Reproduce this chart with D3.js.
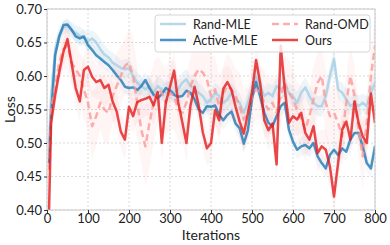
<!DOCTYPE html>
<html>
<head>
<meta charset="utf-8">
<script src="https://cdn.jsdelivr.net/npm/d3@7"></script>
<style>
  body { margin: 0; background: #fff; }
  svg { display: block; font-family: Lato, "Open Sans", sans-serif; }
</style>
</head>
<body>
<svg width="390" height="245"></svg>
<script>
// iteration of each logged point
const iterations = [5, 10, 20, 30, 40, 50, 60, 70, 80, 90, 100, 110, 120, 130, 140, 150, 160, 170, 180, 190,
  200, 210, 220, 230, 240, 250, 260, 270, 280, 290, 300, 310, 320, 330, 340, 350, 360, 370, 380, 390,
  400, 410, 420, 430, 440, 450, 460, 470, 480, 490, 500, 510, 520, 530, 540, 550, 560, 570, 580, 590,
  600, 610, 620, 630, 640, 650, 660, 670, 680, 690, 700, 710, 720, 730, 740, 750, 760, 770, 780, 790, 800];

const randMLE = [0.50, 0.57, 0.64, 0.662, 0.672, 0.675, 0.668, 0.664, 0.66, 0.657, 0.652, 0.656, 0.65, 0.64, 0.632, 0.628, 0.62, 0.616, 0.612, 0.61,
  0.612, 0.60, 0.59, 0.585, 0.58, 0.585, 0.575, 0.585, 0.58, 0.575, 0.58, 0.575, 0.58, 0.59, 0.595, 0.585, 0.58, 0.575, 0.57, 0.56,
  0.565, 0.575, 0.57, 0.56, 0.565, 0.575, 0.565, 0.56, 0.545, 0.56, 0.58, 0.598, 0.585, 0.57, 0.575, 0.57, 0.585, 0.58, 0.585, 0.575,
  0.57, 0.56, 0.575, 0.583, 0.57, 0.56, 0.555, 0.555, 0.57, 0.60, 0.625, 0.58, 0.575, 0.565, 0.555, 0.56, 0.555, 0.56, 0.555, 0.575, 0.59];
const activeMLE = [0.47, 0.54, 0.631, 0.659, 0.676, 0.677, 0.669, 0.659, 0.656, 0.659, 0.646, 0.639, 0.631, 0.626, 0.621, 0.616, 0.609, 0.601, 0.594, 0.584,
  0.582, 0.583, 0.579, 0.585, 0.594, 0.582, 0.572, 0.567, 0.573, 0.582, 0.578, 0.572, 0.569, 0.57, 0.578, 0.575, 0.565, 0.55, 0.545, 0.555,
  0.554, 0.556, 0.542, 0.534, 0.542, 0.547, 0.529, 0.522, 0.499, 0.519, 0.566, 0.591, 0.569, 0.545, 0.53, 0.525, 0.54, 0.555, 0.56, 0.52,
  0.502, 0.49, 0.495, 0.497, 0.492, 0.50, 0.48, 0.47, 0.462, 0.482, 0.49, 0.482, 0.492, 0.487, 0.505, 0.515, 0.515, 0.495, 0.47, 0.462, 0.495];
const randOMD = [0.46, 0.55, 0.585, 0.62, 0.64, 0.645, 0.62, 0.61, 0.60, 0.58, 0.56, 0.525, 0.54, 0.56, 0.55, 0.545, 0.57, 0.585, 0.60, 0.615,
  0.62, 0.60, 0.56, 0.52, 0.495, 0.53, 0.56, 0.58, 0.575, 0.56, 0.575, 0.57, 0.55, 0.545, 0.56, 0.585, 0.60, 0.61, 0.605, 0.595,
  0.57, 0.58, 0.555, 0.575, 0.585, 0.58, 0.57, 0.555, 0.535, 0.545, 0.57, 0.58, 0.575, 0.56, 0.55, 0.56, 0.545, 0.57, 0.59, 0.575,
  0.565, 0.55, 0.535, 0.52, 0.54, 0.565, 0.59, 0.60, 0.56, 0.54, 0.545, 0.53, 0.51, 0.56, 0.60, 0.57, 0.52, 0.48, 0.53, 0.60, 0.645];
const ours = [0.40, 0.53, 0.572, 0.606, 0.636, 0.655, 0.619, 0.582, 0.562, 0.609, 0.614, 0.599, 0.591, 0.594, 0.582, 0.587, 0.562, 0.547, 0.517, 0.505,
  0.554, 0.54, 0.561, 0.564, 0.566, 0.569, 0.556, 0.576, 0.50, 0.561, 0.584, 0.608, 0.561, 0.531, 0.50, 0.556, 0.584, 0.556, 0.516, 0.492,
  0.50, 0.549, 0.534, 0.581, 0.591, 0.579, 0.554, 0.532, 0.514, 0.544, 0.575, 0.624, 0.589, 0.534, 0.519, 0.529, 0.468, 0.645, 0.58, 0.53,
  0.54, 0.535, 0.545, 0.515, 0.505, 0.525, 0.485, 0.495, 0.49, 0.465, 0.42, 0.47, 0.52, 0.532, 0.505, 0.562, 0.53, 0.51, 0.50, 0.574, 0.53];

// spread of the shaded band around each curve
const randMLEStd = [0.02, 0.02, 0.015, 0.012, 0.01, 0.01, 0.012, 0.012, 0.014, 0.012, 0.015, 0.012, 0.014, 0.016, 0.014, 0.012, 0.015, 0.014, 0.012, 0.015,
  0.015, 0.014, 0.016, 0.014, 0.015, 0.016, 0.014, 0.015, 0.016, 0.014, 0.015, 0.016, 0.014, 0.015, 0.016, 0.014, 0.015, 0.016, 0.014, 0.015,
  0.016, 0.014, 0.015, 0.016, 0.014, 0.015, 0.016, 0.014, 0.015, 0.016, 0.014, 0.015, 0.016, 0.014, 0.015, 0.016, 0.014, 0.015, 0.016, 0.014,
  0.015, 0.016, 0.014, 0.015, 0.016, 0.014, 0.015, 0.016, 0.014, 0.015, 0.016, 0.014, 0.015, 0.016, 0.014, 0.015, 0.016, 0.014, 0.015, 0.016, 0.015];
const activeMLEStd = [0.02, 0.015, 0.01, 0.008, 0.008, 0.008, 0.008, 0.01, 0.01, 0.01, 0.01, 0.01, 0.01, 0.01, 0.01, 0.01, 0.01, 0.01, 0.012, 0.012,
  0.012, 0.012, 0.012, 0.012, 0.012, 0.012, 0.012, 0.012, 0.012, 0.012, 0.012, 0.012, 0.012, 0.012, 0.012, 0.012, 0.012, 0.012, 0.012, 0.012,
  0.014, 0.014, 0.014, 0.014, 0.014, 0.014, 0.014, 0.014, 0.014, 0.014, 0.014, 0.014, 0.014, 0.014, 0.014, 0.014, 0.014, 0.014, 0.014, 0.014,
  0.014, 0.014, 0.014, 0.014, 0.014, 0.014, 0.014, 0.014, 0.014, 0.014, 0.014, 0.014, 0.014, 0.014, 0.014, 0.014, 0.014, 0.014, 0.014, 0.014, 0.014];
const randOMDStd = [0.03, 0.03, 0.03, 0.025, 0.03, 0.035, 0.03, 0.04, 0.035, 0.045, 0.04, 0.05, 0.045, 0.04, 0.05, 0.045, 0.04, 0.05, 0.045, 0.04,
  0.05, 0.06, 0.055, 0.05, 0.06, 0.065, 0.06, 0.05, 0.045, 0.05, 0.055, 0.05, 0.045, 0.05, 0.04, 0.045, 0.05, 0.04, 0.045, 0.05,
  0.06, 0.05, 0.045, 0.04, 0.05, 0.045, 0.04, 0.05, 0.045, 0.04, 0.05, 0.045, 0.04, 0.05, 0.045, 0.04, 0.05, 0.045, 0.04, 0.05,
  0.045, 0.04, 0.05, 0.045, 0.04, 0.05, 0.045, 0.04, 0.05, 0.045, 0.04, 0.05, 0.045, 0.04, 0.05, 0.045, 0.04, 0.05, 0.045, 0.04, 0.04];
const oursStd = [0.02, 0.02, 0.02, 0.02, 0.02, 0.025, 0.025, 0.03, 0.03, 0.025, 0.03, 0.03, 0.025, 0.03, 0.03, 0.025, 0.03, 0.03, 0.025, 0.03,
  0.03, 0.025, 0.03, 0.03, 0.025, 0.03, 0.03, 0.025, 0.03, 0.03, 0.025, 0.03, 0.03, 0.025, 0.03, 0.03, 0.025, 0.03, 0.03, 0.025,
  0.03, 0.025, 0.03, 0.03, 0.025, 0.03, 0.03, 0.025, 0.03, 0.03, 0.025, 0.03, 0.03, 0.025, 0.03, 0.03, 0.025, 0.03, 0.03, 0.025,
  0.03, 0.025, 0.03, 0.03, 0.025, 0.03, 0.03, 0.025, 0.03, 0.03, 0.025, 0.03, 0.03, 0.025, 0.03, 0.03, 0.025, 0.03, 0.03, 0.025, 0.03];

const xTicks = [0, 100, 200, 300, 400, 500, 600, 700, 800];
const yTicks = [0.40, 0.45, 0.50, 0.55, 0.60, 0.65, 0.70];

const series = [
  { name: "Rand-MLE", values: randMLE, std: randMLEStd, color: "#a6cee3", band: "rgba(166,206,227,0.2)", dash: null },
  { name: "Active-MLE", values: activeMLE, std: activeMLEStd, color: "#1f78b4", band: "rgba(31,120,180,0.05)", dash: null },
  { name: "Rand-OMD", values: randOMD, std: randOMDStd, color: "#fb9a99", band: "rgba(251,154,153,0.1)", dash: "7,4" },
  { name: "Ours", values: ours, std: oursStd, color: "#e31a1c", band: "rgba(227,26,28,0.04)", dash: null }
];

const svg = d3.select("svg");
const m = { left: 47, right: 375, top: 9, bottom: 210 };

const x = d3.scaleLinear().domain([0, 800]).range([m.left, m.right]);
const y = d3.scaleLinear().domain([0.40, 0.70]).range([m.bottom, m.top]);

// grid
const grid = svg.append("g");
grid.selectAll(".gx").data(xTicks).enter().append("line")
  .attr("x1", d => x(d)).attr("x2", d => x(d))
  .attr("y1", m.top).attr("y2", m.bottom)
  .attr("stroke", "#d0d0d0").attr("stroke-width", 0.8).attr("stroke-dasharray", "2,2");
grid.selectAll(".gy").data(yTicks).enter().append("line")
  .attr("x1", m.left).attr("x2", m.right)
  .attr("y1", d => y(d)).attr("y2", d => y(d))
  .attr("stroke", "#d0d0d0").attr("stroke-width", 0.8).attr("stroke-dasharray", "2,2");

svg.append("clipPath").attr("id", "clip").append("rect")
  .attr("x", m.left).attr("y", m.top).attr("width", m.right - m.left).attr("height", m.bottom - m.top);
const inner = svg.append("g").attr("clip-path", "url(#clip)");

const area = (s) => d3.area()
  .x((d, i) => x(iterations[i]))
  .y0((d, i) => y(d - s.std[i]))
  .y1((d, i) => y(d + s.std[i]));

const line = d3.line()
  .x((d, i) => x(iterations[i]))
  .y(d => y(d));

series.forEach(s => {
  inner.append("path").datum(s.values)
    .attr("d", area(s))
    .attr("fill", s.band);
});

series.forEach(s => {
  inner.append("path").datum(s.values)
    .attr("d", line)
    .attr("fill", "none")
    .attr("stroke", s.color)
    .attr("stroke-opacity", 0.8)
    .attr("stroke-width", 2.5)
    .attr("stroke-linejoin", "round")
    .attr("stroke-dasharray", s.dash);
});

// frame
svg.append("rect")
  .attr("x", m.left).attr("y", m.top).attr("width", m.right - m.left).attr("height", m.bottom - m.top)
  .attr("fill", "none").attr("stroke", "#c8c8c8").attr("stroke-width", 1);

// axes
const xAxis = svg.append("g")
  .attr("transform", `translate(0,${m.bottom})`)
  .call(d3.axisBottom(x).tickValues(xTicks).tickSize(3).tickPadding(1));
const yAxis = svg.append("g")
  .attr("transform", `translate(${m.left},0)`)
  .call(d3.axisLeft(y).tickValues(yTicks).tickFormat(d3.format(".2f")).tickSize(3).tickPadding(2));
[xAxis, yAxis].forEach(a => {
  a.select(".domain").remove();
  a.selectAll("line").attr("stroke", "#333");
  a.selectAll("text").attr("font-size", 13).attr("fill", "#222").attr("font-family", "Lato, sans-serif");
});

svg.append("text")
  .attr("x", (m.left + m.right) / 2).attr("y", 240)
  .attr("text-anchor", "middle")
  .attr("font-size", 14).attr("fill", "#222")
  .text("Iterations");
svg.append("text")
  .attr("transform", `translate(15,${(m.top + m.bottom) / 2}) rotate(-90)`)
  .attr("text-anchor", "middle")
  .attr("font-size", 14).attr("fill", "#222")
  .text("Loss");

// legend
const legend = svg.append("g");
legend.append("rect")
  .attr("x", 155).attr("y", 15).attr("width", 215).attr("height", 37).attr("rx", 3)
  .attr("fill", "rgba(255,255,255,0.8)").attr("stroke", "#d5d5d5").attr("stroke-width", 1);
const legendPos = [[160, 24], [160, 40], [272, 24], [272, 40]];
series.forEach((s, i) => {
  const [lx, ly] = legendPos[i];
  legend.append("line")
    .attr("x1", lx).attr("x2", lx + 26).attr("y1", ly).attr("y2", ly)
    .attr("stroke", s.color).attr("stroke-opacity", 0.8).attr("stroke-width", 2.5)
    .attr("stroke-dasharray", s.dash);
  legend.append("text")
    .attr("x", lx + 33).attr("y", ly + 4.5)
    .attr("font-size", 12.5).attr("fill", "#222")
    .text(s.name);
});
</script>
</body>
</html>
